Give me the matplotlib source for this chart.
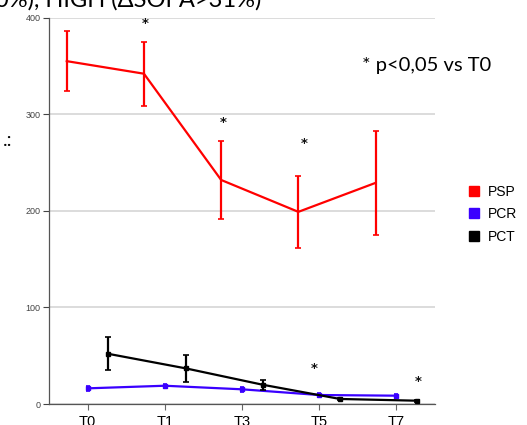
import numpy as np
import matplotlib.pyplot as plt
from matplotlib.lines import Line2D

# dati
tempi = ['T0', 'T1', 'T3', 'T5', 'T7']
psp = [355, 342, 232, 199, 229]
psp_err = [31, 33, 40, 37, 54]
pcr = [16.3, 19, 15.3, 9.4, 8.7]
pcr_err = [2.5, 2, 2.5, 2, 2]
pct = [52, 37, 20, 5.3, 3.5]
pct_err = [17, 14, 5, 1.5, 1.2]

# asterischi (p<0,05 vs T0): posizione x, y
stelle_x = [0.74, 1.76, 2.80, 2.94, 4.28]
stelle_y = [394, 292, 270, 37, 23]

fig = plt.figure(figsize=(5.27, 4.25), dpi=100)
ax = fig.add_axes([0.093, 0.0492, 0.7324, 0.9092])

x = np.arange(len(tempi))
off = 0.27

ax.errorbar(x - off, psp, yerr=psp_err, color='#FF0000', lw=1.6,
            elinewidth=1.6, capsize=2, capthick=1.2, zorder=3)
ax.errorbar(x, pcr, yerr=pcr_err, color='#3A00FF', lw=1.6, marker='s', ms=3,
            elinewidth=1.4, capsize=1.5, capthick=1.2, zorder=3)
ax.errorbar(x + off, pct, yerr=pct_err, color='black', lw=1.6, marker='s', ms=2.5,
            elinewidth=1.6, capsize=2, capthick=1.2, zorder=4)

for sx, sy in zip(stelle_x, stelle_y):
    ax.text(sx, sy, '*', ha='center', va='center', fontsize=9.5,
            fontweight='bold', family='DejaVu Sans', color='#111111')

ax.set_xlim(-0.5, 4.5)
ax.set_ylim(0, 400)
ax.set_xticks(x)
ax.set_xticklabels(tempi, fontsize=10.5, family='Liberation Sans')
ax.set_yticks([0, 100, 200, 300, 400])
ax.tick_params(axis='y', labelsize=6.5, colors='#444444', length=4, width=0.8, pad=2)
ax.tick_params(axis='x', labelsize=10.5, length=4, width=0.8, color='#666666', pad=4)
for lab in ax.get_yticklabels():
    lab.set_family('Liberation Sans')
ax.grid(axis='y', color='#D9D9D9', lw=1.3, zorder=0)
ax.set_axisbelow(True)
for s in ['top', 'right']:
    ax.spines[s].set_visible(False)
ax.spines['left'].set_color('#555555')
ax.spines['bottom'].set_color('#555555')
ax.spines['left'].set_linewidth(0.9)
ax.spines['bottom'].set_linewidth(0.9)

# legenda a quadratini
handles = [Line2D([], [], ls='none', marker='s', ms=6.5, color=c)
           for c in ['#FF0000', '#3A00FF', 'black']]
fig.legend(handles, ['PSP', 'PCR', 'PCT'], loc='center left',
           bbox_to_anchor=(0.862, 0.496), frameon=False, handletextpad=0.55,
           labelspacing=0.6, prop={'family': 'Liberation Sans', 'size': 10},
           handlelength=1.0)

# testi della slide
fig.text(362 / 527, 1 - 65 / 425, '* p<0,05 vs T0', fontsize=14.5, family='Lato',
         va='center', ha='left')
fig.text(-5 / 527, 1 - 7 / 425, '0%), HIGH (\u0394SOFA>31%)', fontsize=17,
         family='Lato', va='baseline', ha='left')
fig.text(3 / 527, 1 - 140 / 425, '.:', fontsize=14, family='Lato',
         va='center', ha='left')

fig.savefig('out.png', dpi=100)
